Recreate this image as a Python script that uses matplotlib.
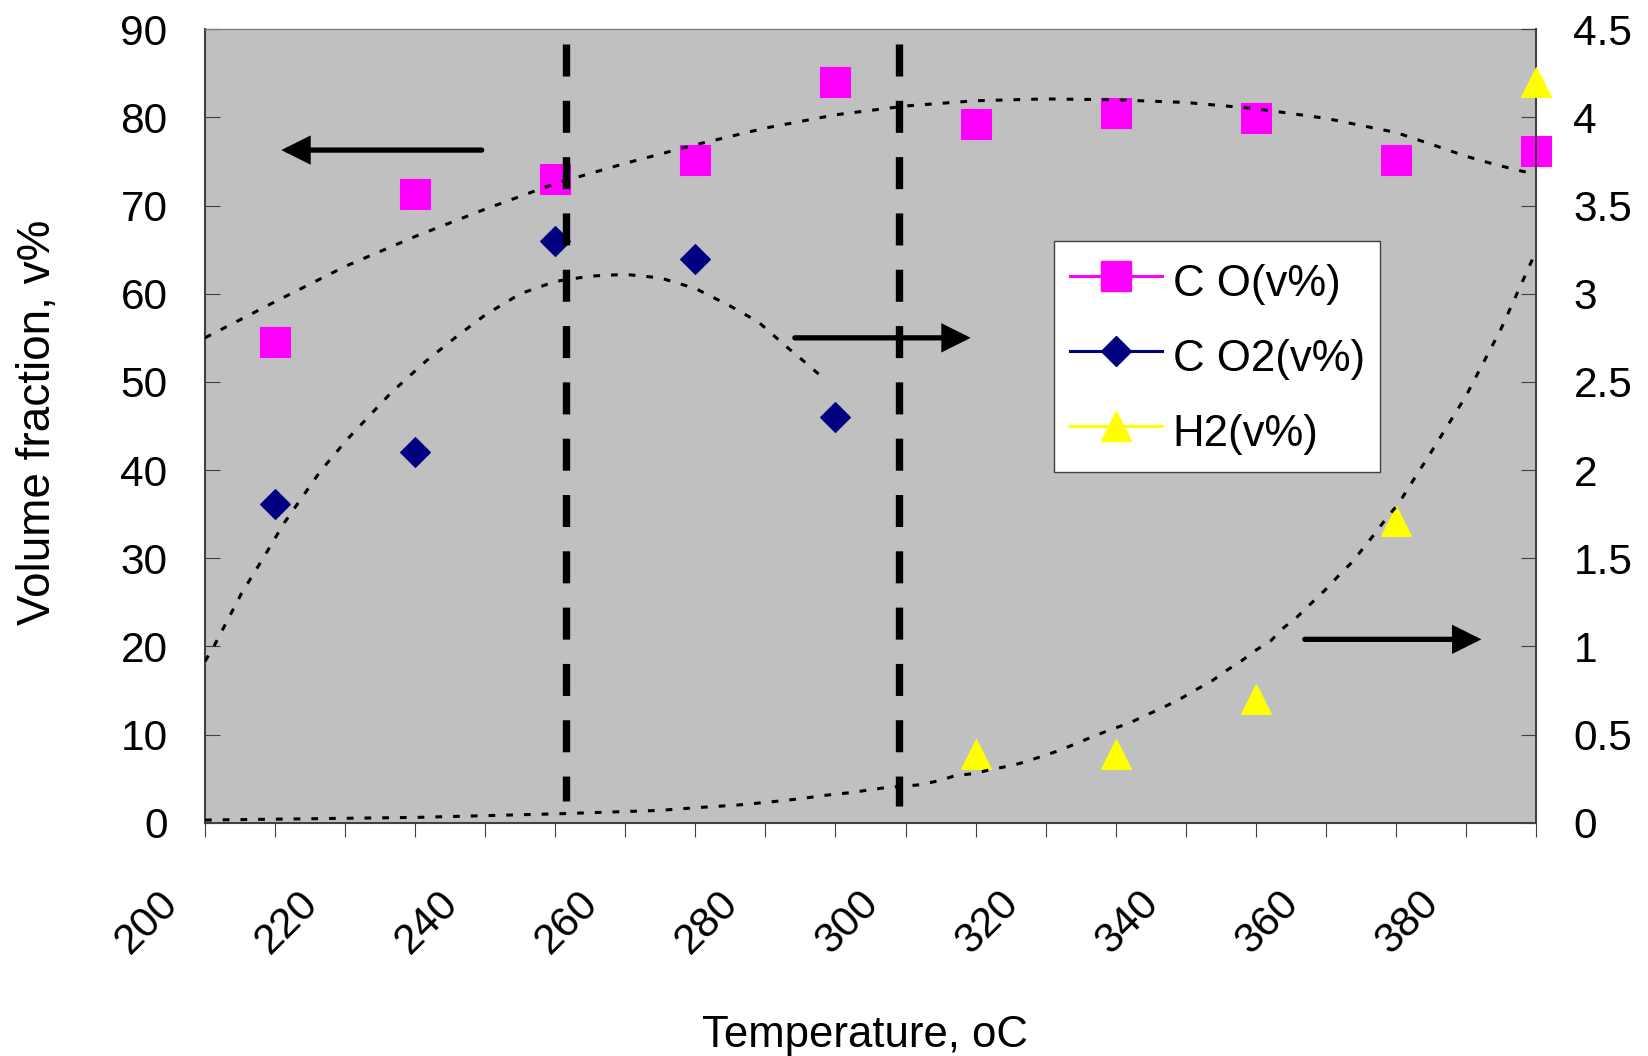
import matplotlib
matplotlib.use('Agg')
import matplotlib.pyplot as plt
from matplotlib.lines import Line2D
from matplotlib.transforms import ScaledTranslation

plt.rcParams['font.family'] = ['Liberation Sans', 'DejaVu Sans']

# ---------------- data ----------------
co_temp = [210, 230, 250, 270, 290, 310, 330, 350, 370, 390]
co_vals = [54.5, 71.3, 73.0, 75.2, 84.0, 79.3, 80.5, 79.9, 75.2, 76.2]

co2_temp = [210, 230, 250, 270, 290]
co2_vals = [1.81, 2.10, 3.30, 3.20, 2.30]

h2_temp = [310, 330, 350, 370, 390]
h2_vals = [0.39, 0.39, 0.70, 1.71, 4.20]

# trendlines
co_trend_t = [200, 210, 220, 230, 240, 250, 260, 270, 280, 290, 300, 310, 320,
              330, 340, 350, 360, 370, 376, 380, 384, 388, 390]
co_trend_v = [55.0, 59.1, 63.1, 66.5, 69.6, 72.5, 74.8, 76.9, 78.8, 80.3, 81.3,
              81.9, 82.1, 82.0, 81.7, 81.0, 79.9, 78.3, 76.7, 75.6, 74.7, 73.9, 73.6]

co2_trend_t = [200, 201.4, 205.2, 208.3, 211.3, 216.4, 220.2, 226.6, 231.6, 236,
               240, 245, 250, 255, 260, 265, 270, 275, 279, 283, 286, 288.3]
co2_trend_v = [0.915, 1.01, 1.30, 1.50, 1.70, 1.99, 2.17, 2.44, 2.62, 2.76, 2.88,
               3.00, 3.07, 3.10, 3.11, 3.09, 3.03, 2.93, 2.84, 2.70, 2.60, 2.52]

h2_trend_t = [200, 230, 250, 265, 270, 276, 281, 285, 288, 292, 297, 302, 305,
              307, 310, 312, 315, 317, 322, 325, 329, 332, 334.3, 336.8, 339.3,
              341.5, 343.8, 346, 348, 350, 352.2, 353.8, 355.9, 357.8, 359.9,
              361.8, 363.8, 365.4, 367, 368.7, 370.4, 371.8, 375, 380, 385, 390]
h2_trend_v = [0.015, 0.03, 0.05, 0.07, 0.085, 0.10, 0.119, 0.136, 0.153, 0.17,
              0.198, 0.215, 0.24, 0.266, 0.28, 0.30, 0.323, 0.344, 0.41, 0.46,
              0.524, 0.566, 0.609, 0.654, 0.704, 0.755, 0.806, 0.868, 0.919,
              0.978, 1.034, 1.10, 1.167, 1.24, 1.32, 1.40, 1.48, 1.56, 1.64,
              1.73, 1.81, 1.90, 2.10, 2.42, 2.80, 3.24]

x_major = [200, 220, 240, 260, 280, 300, 320, 340, 360, 380]
x_tick_labels = ['200', '220', '240', '260', '280', '300', '320', '340', '360', '380']
x_minor = [210, 230, 250, 270, 290, 310, 330, 350, 370, 390]
left_ticks = [0, 10, 20, 30, 40, 50, 60, 70, 80, 90]
left_tick_labels = ['0', '10', '20', '30', '40', '50', '60', '70', '80', '90']
right_ticks = [0, 0.5, 1, 1.5, 2, 2.5, 3, 3.5, 4, 4.5]
right_tick_labels = ['0', '0.5', '1', '1.5', '2', '2.5', '3', '3.5', '4', '4.5']

# vertical dashed separators (x, y_top, y_bottom on left axis)
vlines_x = [251.6, 299.1]
vlines_top = [88.3, 88.3]
vlines_bottom = [2.5, 1.9]

# arrows on the left-axis scale: (tail_x, tip_x, y)
arrow_tail_x = [239.5, 284.2, 357.0]
arrow_tip_x = [210.9, 309.3, 382.2]
arrow_y = [76.3, 55.0, 20.8]

labels = ['C O(v%)', 'C O2(v%)', 'H2(v%)']
colors = ['#FF00FF', '#000080', '#FFFF00']

# ---------------- figure ----------------
W, H = 1648, 1056
fig = plt.figure(figsize=(W / 100, H / 100), dpi=100, facecolor='white')
L, R, T, B = 205, 1536, 29.3, 822.7
ax1 = fig.add_axes([L / W, 1 - B / H, (R - L) / W, (B - T) / H])
ax2 = ax1.twinx()
ax1.set_facecolor('#C0C0C0')
ax2.patch.set_visible(False)

FS_TICK = 30.5
FS_XLAB = 31.5
FS_YLAB = 33
FS_LEG = 31.5
axis_col = '#404040'

ms_sq = 21.5
ms_d = 15.3
ms_tri = 21.5
trend_style = (0, (2.2, 3.6))

ax1.plot(co_temp, co_vals, linestyle='none', marker='s', ms=ms_sq,
         mfc=colors[0], mec=colors[0], mew=0.8, clip_on=False, zorder=3)
ax1.plot(co_trend_t, co_trend_v, color='black', lw=2.2,
         linestyle=trend_style, zorder=4)

ax2.plot(co2_temp, co2_vals, linestyle='none', marker='D', ms=ms_d,
         mfc=colors[1], mec=colors[1], mew=0.8, clip_on=False, zorder=3)
ax2.plot(h2_temp, h2_vals, linestyle='none', marker='^', ms=ms_tri,
         mfc=colors[2], mec=colors[2], mew=0.8, clip_on=False, zorder=3)
ax2.plot(co2_trend_t, co2_trend_v, color='black', lw=2.2,
         linestyle=trend_style, zorder=4)
ax2.plot(h2_trend_t, h2_trend_v, color='black', lw=2.2,
         linestyle=trend_style, zorder=4)

# vertical dashed lines (drawn on top, left-axis coordinates)
for xv, yt, yb in zip(vlines_x, vlines_top, vlines_bottom):
    ax2.plot([xv, xv], [yt, yb], transform=ax1.transData, color='black',
             lw=5.3, linestyle=(0, (4.35, 3.3)), solid_capstyle='butt',
             dash_capstyle='butt', zorder=5)

# arrows
for xt, xh, ya in zip(arrow_tail_x, arrow_tip_x, arrow_y):
    ax2.annotate('', xy=(xh, ya), xytext=(xt, ya),
                 xycoords=ax1.transData, textcoords=ax1.transData,
                 arrowprops=dict(arrowstyle='-|>,head_length=15,head_width=7.5',
                                 mutation_scale=1, lw=3.8, color='black',
                                 shrinkA=0, shrinkB=0, capstyle='round',
                                 joinstyle='miter'),
                 zorder=6)

# limits
ax1.set_xlim(200, 390)
ax1.set_ylim(0, 90)
ax2.set_ylim(0, 4.5)

# spines
for ax in (ax1, ax2):
    for s in ax.spines.values():
        s.set_visible(False)
ax1.spines['left'].set_visible(True)
ax1.spines['bottom'].set_visible(True)
ax1.spines['top'].set_visible(True)
ax2.spines['right'].set_visible(True)
ax1.spines['left'].set_color(axis_col)
ax1.spines['left'].set_linewidth(1.5)
ax1.spines['bottom'].set_color(axis_col)
ax1.spines['bottom'].set_linewidth(1.5)
ax1.spines['top'].set_color('#808080')
ax1.spines['top'].set_linewidth(1.0)
ax2.spines['right'].set_color(axis_col)
ax2.spines['right'].set_linewidth(1.5)

# ticks
ax1.set_yticks(left_ticks, left_tick_labels)
ax2.set_yticks(right_ticks, right_tick_labels)
ax1.set_xticks(x_major, x_tick_labels)
ax1.set_xticks(x_minor, minor=True)
ax1.tick_params(axis='y', direction='in', length=10.8, width=0.8,
                color=axis_col, pad=27, labelsize=FS_TICK)
ax2.tick_params(axis='y', direction='in', length=10.8, width=0.8,
                color=axis_col, pad=27, labelsize=FS_TICK)
ax1.tick_params(axis='x', which='both', direction='out', length=10.3,
                width=0.8, color=axis_col, pad=33, labelsize=FS_TICK)
ax1.tick_params(axis='x', which='minor', labelbottom=False)

offset = ScaledTranslation(-0.19, 0, fig.dpi_scale_trans)
for lab in ax1.get_xticklabels():
    lab.set_rotation(45)
    lab.set_ha('right')
    lab.set_va('top')
    lab.set_transform(lab.get_transform() + offset)

# axis titles
ax1.set_xlabel('Temperature, oC', fontsize=FS_XLAB)
ax1.xaxis.set_label_coords((865 - L) / (R - L), -(1047 - B) / (B - T))
ax1.xaxis.label.set_va('baseline')
ax1.set_ylabel('Volume fraction, v%', fontsize=FS_YLAB)
ax1.yaxis.set_label_coords(-(L - 50) / (R - L), (B - 422) / (B - T))
ax1.yaxis.label.set_va('baseline')

# legend
handles = [
    Line2D([], [], color=colors[0], lw=2.2, marker='s', ms=ms_sq,
           mfc=colors[0], mec=colors[0]),
    Line2D([], [], color=colors[1], lw=2.2, marker='D', ms=ms_d,
           mfc=colors[1], mec=colors[1]),
    Line2D([], [], color=colors[2], lw=2.2, marker='^', ms=ms_tri,
           mfc=colors[2], mec=colors[2]),
]
leg = ax2.legend(handles, labels, loc='upper left',
                 bbox_to_anchor=(1054 / W, 1 - 240.7 / H),
                 bbox_transform=fig.transFigure, borderaxespad=0,
                 fontsize=FS_LEG, frameon=True, fancybox=False, framealpha=1,
                 facecolor='white', edgecolor=axis_col, handlelength=2.1,
                 handleheight=1.385, handletextpad=0.25, labelspacing=0.565,
                 borderpad=0.36)
leg.get_frame().set_linewidth(1.0)
leg.set_zorder(10)

fig.savefig('out.png', dpi=100, facecolor='white')
